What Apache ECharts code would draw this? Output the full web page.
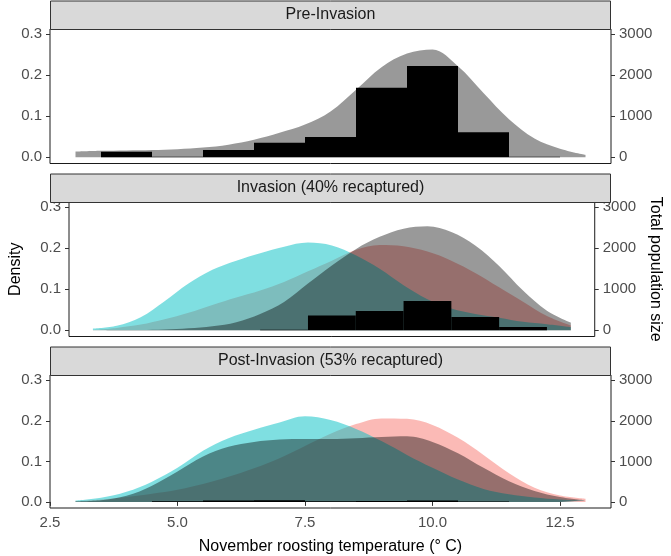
<!DOCTYPE html>
<html>
<head>
<meta charset="utf-8">
<title>November roosting temperature</title>
<script src="https://cdn.jsdelivr.net/npm/echarts@6/dist/echarts.min.js"></script>
<style>
  html, body { margin: 0; padding: 0; background: #fff; }
  #chart { width: 671px; height: 556px; }
</style>
</head>
<body>
<div id="chart"></div>
<script>
// temperatures (°C) at which the density curves were read
const tempX = [3, 3.5, 4, 4.5, 5, 5.5, 6, 6.5, 7, 7.5, 8, 8.5, 9, 9.5, 10, 10.5, 11, 11.5, 12, 12.5, 13];
// histogram bins are 1 °C wide, centred on whole degrees
const binCentres = [4, 5, 6, 7, 8, 9, 10, 11, 12];

const panelTitles = ["Pre-Invasion", "Invasion (40% recaptured)", "Post-Invasion (53% recaptured)"];
const xTicks = [2.5, 5, 7.5, 10, 12.5];
const densityTicks = [0, 0.1, 0.2, 0.3];
const popTicks = [0, 1000, 2000, 3000];

// Pre-Invasion
const preTotal = [0.014, 0.016, 0.017, 0.018, 0.020, 0.024, 0.031, 0.043, 0.060, 0.080, 0.112,
  0.165, 0.220, 0.253, 0.263, 0.222, 0.157, 0.093, 0.046, 0.021, 0.006];
const preCounts = [138, 15, 178, 356, 495, 1700, 2230, 615, 16];

// Invasion (40% recaptured)
const invTotal = [0.000, 0.001, 0.001, 0.002, 0.005, 0.010, 0.020, 0.040, 0.069, 0.114, 0.158,
  0.198, 0.228, 0.248, 0.254, 0.240, 0.207, 0.157, 0.097, 0.048, 0.019];
const invRed = [0.001, 0.006, 0.014, 0.027, 0.043, 0.062, 0.080, 0.097, 0.118, 0.144, 0.170,
  0.196, 0.208, 0.205, 0.192, 0.170, 0.140, 0.105, 0.070, 0.035, 0.012];
const invCyan = [0.004, 0.011, 0.032, 0.071, 0.114, 0.148, 0.170, 0.188, 0.204, 0.214, 0.207,
  0.183, 0.150, 0.110, 0.076, 0.053, 0.040, 0.031, 0.021, 0.015, 0.008];
const invCounts = [0, 0, 0, 15, 365, 470, 714, 324, 81];

// Post-Invasion (53% recaptured)
const postTotal = [0.001, 0.004, 0.015, 0.040, 0.075, 0.112, 0.136, 0.148, 0.154, 0.155, 0.155,
  0.157, 0.160, 0.162, 0.148, 0.120, 0.084, 0.051, 0.027, 0.012, 0.004];
const postRed = [0.002, 0.006, 0.012, 0.020, 0.030, 0.044, 0.062, 0.083, 0.108, 0.138, 0.168,
  0.192, 0.206, 0.205, 0.190, 0.158, 0.116, 0.071, 0.035, 0.016, 0.008];
const postCyan = [0.003, 0.010, 0.025, 0.050, 0.084, 0.126, 0.157, 0.178, 0.196, 0.211, 0.202,
  0.180, 0.150, 0.116, 0.084, 0.055, 0.032, 0.019, 0.011, 0.006, 0.003];
const postCounts = [0, 15, 35, 40, 15, 20, 38, 12, 0];

const RED = "rgba(248,118,109,0.5)";
const CYAN = "rgba(0,191,196,0.5)";
const GREY = "rgba(0,0,0,0.4)";
const FONT = "Liberation Sans, Arial, sans-serif";

const chart = echarts.init(document.getElementById("chart"));

// layout of the three facets
const LEFT = 50, RIGHT = 60, PLOT_W = 671 - LEFT - RIGHT;
const panelTop = [29, 202, 375];
const panelH = 134.5;
const stripH = 28.5;

function pairs(ys) {
  return tempX.map((x, i) => [x, ys[i]]);
}

function bins(counts) {
  return binCentres.map((c, i) => [c - 0.5, c + 0.5, counts[i]]).filter(d => d[2] > 0);
}

function area(p, ys, color) {
  return {
    type: "line", xAxisIndex: p, yAxisIndex: 2 * p,
    data: pairs(ys),
    smooth: 0.35,
    symbol: "none", showSymbol: false,
    lineStyle: { width: 0, opacity: 0 },
    areaStyle: { color: color, opacity: 1 },
    silent: true, z: 2
  };
}

function hist(p, counts) {
  return {
    type: "custom", xAxisIndex: p, yAxisIndex: 2 * p + 1,
    data: bins(counts),
    encode: { x: [0, 1], y: 2 },
    renderItem: function (params, api) {
      const a = api.coord([api.value(0), api.value(2)]);
      const b = api.coord([api.value(1), 0]);
      return {
        type: "rect",
        shape: { x: a[0], y: a[1], width: b[0] - a[0], height: b[1] - a[1] },
        style: { fill: "#000" }
      };
    },
    silent: true, z: 3
  };
}

const grids = panelTop.map(t => ({
  left: LEFT, right: RIGHT, top: t, height: panelH,
  show: true, borderColor: "#1a1a1a", borderWidth: 1, backgroundColor: "#fff"
}));

const xAxes = [0, 1, 2].map(p => ({
  type: "value", gridIndex: p, min: 2.5, max: 13.5,
  splitLine: { show: false },
  axisLine: { show: false },
  axisTick: { show: p === 2, length: 4, lineStyle: { color: "#333" }, customValues: xTicks },
  axisLabel: {
    show: p === 2, customValues: xTicks, margin: 7,
    formatter: v => v.toFixed(1),
    color: "#4d4d4d", fontSize: 15, fontFamily: FONT
  },
  name: p === 2 ? "November roosting temperature (° C)" : "",
  nameLocation: "middle", nameGap: 31,
  nameTextStyle: { color: "#000", fontSize: 16, fontFamily: FONT }
}));

const yAxes = [];
[0, 1, 2].forEach(p => {
  yAxes.push({
    type: "value", gridIndex: p, position: "left", min: -0.015, max: 0.313,
    splitLine: { show: false },
    axisLine: { show: false },
    axisTick: { show: true, length: 4, lineStyle: { color: "#333" }, customValues: densityTicks },
    axisLabel: {
      customValues: densityTicks, margin: 8,
      formatter: v => v.toFixed(1),
      color: "#4d4d4d", fontSize: 15, fontFamily: FONT
    },
    name: p === 1 ? "Density" : "",
    nameLocation: "middle", nameGap: 45,
    nameTextStyle: { color: "#000", fontSize: 16, fontFamily: FONT }
  });
  yAxes.push({
    type: "value", gridIndex: p, position: "right", min: -150, max: 3130,
    splitLine: { show: false },
    axisLine: { show: false },
    axisTick: { show: true, length: 4, lineStyle: { color: "#333" }, customValues: popTicks },
    axisLabel: {
      customValues: popTicks, margin: 8,
      formatter: v => String(v),
      color: "#4d4d4d", fontSize: 15, fontFamily: FONT
    },
    name: p === 1 ? "Total population size" : "",
    nameLocation: "middle", nameGap: 52, nameRotate: -90,
    nameTextStyle: { color: "#000", fontSize: 16, fontFamily: FONT }
  });
});

// facet strips
const strips = [];
panelTop.forEach((t, p) => {
  strips.push({
    type: "rect", z: 10,
    shape: { x: LEFT + 0.5, y: t - stripH + 0.5, width: PLOT_W - 1, height: stripH },
    style: { fill: "#d9d9d9", stroke: "#333", lineWidth: 1 }
  });
  strips.push({
    type: "text", z: 11,
    style: {
      text: panelTitles[p], x: LEFT + PLOT_W / 2, y: t - stripH / 2,
      align: "center", verticalAlign: "middle",
      fill: "#1a1a1a", fontSize: 16, fontFamily: FONT
    }
  });
});

chart.setOption({
  animation: false,
  grid: grids,
  xAxis: xAxes,
  yAxis: yAxes,
  graphic: strips,
  series: [
    area(0, preTotal, GREY),
    hist(0, preCounts),
    area(1, invRed, RED),
    area(1, invCyan, CYAN),
    area(1, invTotal, GREY),
    hist(1, invCounts),
    area(2, postRed, RED),
    area(2, postCyan, CYAN),
    area(2, postTotal, GREY),
    hist(2, postCounts)
  ]
});
</script>
</body>
</html>
